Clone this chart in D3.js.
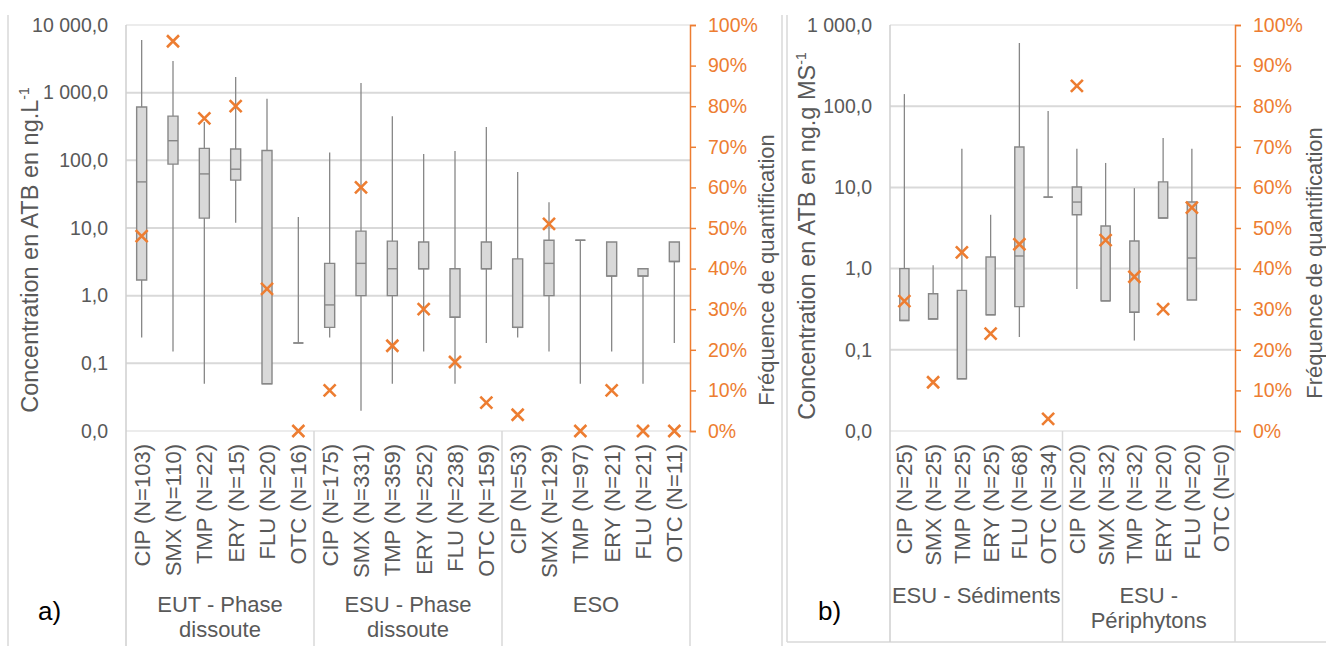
<!DOCTYPE html>
<html>
<head>
<meta charset="utf-8">
<script src="https://cdn.jsdelivr.net/npm/d3@7"></script>
<style>
  body { margin: 0; background: #fff; }
  svg { display: block; font-family: "Liberation Sans", Arial, sans-serif; }
</style>
</head>
<body>
<svg id="chart" width="1326" height="646"></svg>
<script>
// ---- Panel a) : dissolved phase (ng/L) ----
const aCategories = ["CIP (N=103)", "SMX (N=110)", "TMP (N=22)", "ERY (N=15)", "FLU (N=20)", "OTC (N=16)",
                     "CIP (N=175)", "SMX (N=331)", "TMP (N=359)", "ERY (N=252)", "FLU (N=238)", "OTC (N=159)",
                     "CIP (N=53)", "SMX (N=129)", "TMP (N=97)", "ERY (N=21)", "FLU (N=21)", "OTC (N=11)"];
const aGroups = [["EUT - Phase", "dissoute"], ["ESU - Phase", "dissoute"], ["ESO"]];
const aGroupSizes = [6, 6, 6];
const aMin    = [0.24, 0.15, 0.05, 12, 0.05, 0.2,   0.24, 0.02, 0.05, 0.15, 0.05, 0.2,   0.24, 0.15, 0.05, 0.15, 0.05, 0.2];
const aQ1     = [1.7, 88, 14, 51, 0.05, 0.2,        0.34, 1.0, 1.0, 2.5, 0.48, 2.5,      0.34, 1.0, 6.6, 1.95, 1.95, 3.2];
const aMedian = [48, 195, 63, 74, 0.05, 0.2,        0.73, 3.0, 2.5, 2.5, 0.48, 2.5,      0.34, 3.0, 6.6, 1.95, 1.95, 3.2];
const aQ3     = [614, 450, 150, 147, 140, 0.2,      3.0, 9.0, 6.4, 6.2, 2.5, 6.2,        3.5, 6.6, 6.6, 6.2, 2.5, 6.2];
const aMax    = [6000, 2950, 370, 1700, 810, 14.5,  130, 1390, 450, 124, 137, 310,       67, 24, 6.6, 6.2, 2.5, 6.2];
const aFreq   = [48, 96, 77, 80, 35, 0,             10, 60, 21, 30, 17, 7,               4, 51, 0, 10, 0, 0];
const aTicks  = [0.01, 0.1, 1, 10, 100, 1000, 10000];

// ---- Panel b) : sediments and periphyton (ng/g dry matter) ----
const bCategories = ["CIP (N=25)", "SMX (N=25)", "TMP (N=25)", "ERY (N=25)", "FLU (N=68)", "OTC (N=34)",
                     "CIP (N=20)", "SMX (N=32)", "TMP (N=32)", "ERY (N=20)", "FLU (N=20)", "OTC (N=0)"];
const bGroups = [["ESU - Sédiments"], ["ESU -", "Périphytons"]];
const bGroupSizes = [6, 6];
const bMin    = [0.23, 0.24, 0.044, 0.27, 0.144, 7.6,   0.56, 0.40, 0.13, 4.2, 0.41, null];
const bQ1     = [0.23, 0.24, 0.044, 0.27, 0.34, 7.6,    4.6, 0.40, 0.29, 4.2, 0.41, null];
const bMedian = [0.23, 0.24, 0.044, 0.27, 1.43, 7.6,    6.6, 0.40, 0.29, 4.2, 1.35, null];
const bQ3     = [1.0, 0.49, 0.54, 1.39, 31.5, 7.6,      10.1, 3.35, 2.19, 11.7, 6.6, null];
const bMax    = [141, 1.1, 30, 4.6, 600, 87,            30, 20, 9.8, 40.6, 30, null];
const bFreq   = [32, 12, 44, 24, 46, 3,                 85, 47, 38, 30, 55, null];
const bTicks  = [0.01, 0.1, 1, 10, 100, 1000];

const pctTicks = d3.range(0, 101, 10);

const ORANGE = "#ED7D31";
const TEXT = "#595959";
const GRID = "#d9d9d9";
const BOXLINE = "#878787";

const fr = d3.formatLocale({ decimal: ",", thousands: "\u00a0", grouping: [3], currency: ["", " €"] });
const fmtConc = fr.format(",.1f");

const svg = d3.select("#chart");

// panel frames
const frame = svg.append("g").attr("stroke", GRID).attr("stroke-width", 1.5);
frame.append("line").attr("x1", 8).attr("x2", 8).attr("y1", 15).attr("y2", 646);
frame.append("line").attr("x1", 782).attr("x2", 782).attr("y1", 15).attr("y2", 646);
frame.append("line").attr("x1", 787).attr("x2", 787).attr("y1", 15).attr("y2", 642);
frame.append("line").attr("x1", 787).attr("x2", 1326).attr("y1", 642).attr("y2", 642);

function drawPanel(cfg) {
  const g = svg.append("g");
  const x = d3.scaleBand().domain(d3.range(cfg.categories.length)).range([cfg.x0, cfg.x1]);
  const y = d3.scaleLog().domain([cfg.ticks[0], cfg.ticks[cfg.ticks.length - 1]]).range([cfg.yBottom, cfg.yTop]);
  const yp = d3.scaleLinear().domain([0, 100]).range([cfg.yBottom, cfg.yTop]);
  const bw = x.bandwidth() * 0.32;
  const cx = i => x(i) + x.bandwidth() / 2;

  // horizontal gridlines
  g.append("g").selectAll("line").data(cfg.ticks).join("line")
    .attr("x1", cfg.x0).attr("x2", cfg.x1)
    .attr("y1", d => y(d)).attr("y2", d => y(d))
    .attr("stroke", (d, i) => (i === 0 || i === cfg.ticks.length - 1) ? "#ececec" : GRID)
    .attr("stroke-width", 2);

  // left (concentration) axis
  const axL = g.append("g").attr("transform", `translate(${cfg.x0},0)`)
    .call(d3.axisLeft(y).tickValues(cfg.ticks).tickFormat(fmtConc).tickSize(0).tickPadding(18));
  axL.select(".domain").remove();
  axL.selectAll("text").attr("fill", TEXT).attr("font-size", 19.5).attr("font-family", "Liberation Sans, Arial, sans-serif");
  g.append("line").attr("x1", cfg.x0).attr("x2", cfg.x0).attr("y1", cfg.yTop).attr("y2", cfg.bottom)
    .attr("stroke", "#cfcfcf").attr("stroke-width", 1.5);

  // category separators under the plot
  let acc = 0;
  const bounds = [0];
  cfg.groupSizes.forEach(n => { acc += n; bounds.push(acc); });
  g.append("g").selectAll("line").data(bounds.slice(1)).join("line")
    .attr("x1", d => x(d - 1) + x.bandwidth()).attr("x2", d => x(d - 1) + x.bandwidth())
    .attr("y1", cfg.yBottom).attr("y2", cfg.bottom)
    .attr("stroke", GRID).attr("stroke-width", 1.5);

  // category labels (rotated)
  g.append("g").selectAll("text").data(cfg.categories).join("text")
    .attr("transform", (d, i) => `translate(${cx(i)},${cfg.yBottom + 13}) rotate(-90)`)
    .attr("text-anchor", "end").attr("dy", "0.36em")
    .attr("font-size", 22).attr("fill", TEXT)
    .text(d => d);

  // group labels
  cfg.groups.forEach((lines, gi) => {
    const gx = (x(bounds[gi]) + x(bounds[gi + 1] - 1) + x.bandwidth()) / 2;
    const t = g.append("text").attr("x", gx).attr("y", cfg.groupY)
      .attr("text-anchor", "middle").attr("font-size", 22).attr("fill", TEXT);
    lines.forEach((s, li) => t.append("tspan").attr("x", gx).attr("dy", li === 0 ? 0 : 25).text(s));
  });

  // box plots
  const idx = d3.range(cfg.categories.length).filter(i => cfg.q1[i] != null);
  const bx = g.append("g");
  bx.selectAll("line.whisker").data(idx).join("line").attr("class", "whisker")
    .attr("x1", cx).attr("x2", cx)
    .attr("y1", i => y(cfg.max[i])).attr("y2", i => y(cfg.min[i]))
    .attr("stroke", BOXLINE).attr("stroke-width", 1.3);
  bx.selectAll("path.box").data(idx).join("path").attr("class", "box")
    .attr("d", i => `M${cx(i) - bw / 2},${y(cfg.q3[i])}H${cx(i) + bw / 2}V${y(cfg.q1[i])}H${cx(i) - bw / 2}Z`)
    .attr("fill", "#d9d9d9").attr("stroke", BOXLINE).attr("stroke-width", 1.4);
  bx.selectAll("line.median").data(idx).join("line").attr("class", "median")
    .attr("x1", i => cx(i) - bw / 2).attr("x2", i => cx(i) + bw / 2)
    .attr("y1", i => y(cfg.median[i])).attr("y2", i => y(cfg.median[i]))
    .attr("stroke", BOXLINE).attr("stroke-width", 1.4);

  // right (quantification frequency) axis
  const axR = g.append("g").attr("transform", `translate(${cfg.x1},0)`)
    .call(d3.axisRight(yp).tickValues(pctTicks).tickFormat(d => d + "%").tickSize(6).tickPadding(12));
  axR.select(".domain").attr("stroke", ORANGE).attr("stroke-width", 1.5);
  axR.selectAll(".tick line").attr("stroke", ORANGE).attr("stroke-width", 1.5);
  axR.selectAll("text").attr("fill", ORANGE).attr("font-size", 19.5).attr("font-family", "Liberation Sans, Arial, sans-serif");

  // quantification frequency markers
  const fi = d3.range(cfg.categories.length).filter(i => cfg.freq[i] != null);
  g.append("g").selectAll("path").data(fi).join("path")
    .attr("transform", i => `translate(${cx(i)},${yp(cfg.freq[i])})`)
    .attr("d", "M-6,-6L6,6M-6,6L6,-6")
    .attr("stroke", ORANGE).attr("stroke-width", 2.6).attr("fill", "none");

  // axis titles
  const tl = g.append("text")
    .attr("transform", `translate(${cfg.titleLX},${cfg.titleLY}) rotate(-90)`)
    .attr("text-anchor", "middle").attr("font-size", 23.5).attr("fill", TEXT);
  tl.append("tspan").text(cfg.titleL);
  tl.append("tspan").attr("font-size", 14).attr("dy", -9).text("-1");

  g.append("text")
    .attr("transform", `translate(${cfg.titleRX},${cfg.titleRY}) rotate(-90)`)
    .attr("text-anchor", "middle").attr("font-size", 22).attr("fill", TEXT)
    .text("Fréquence de quantification");

  // panel letter
  g.append("text").attr("x", cfg.letterX).attr("y", 620)
    .attr("font-size", 26).attr("fill", "#000").text(cfg.letter);
}

drawPanel({
  categories: aCategories, groups: aGroups, groupSizes: aGroupSizes,
  min: aMin, q1: aQ1, median: aMedian, q3: aQ3, max: aMax, freq: aFreq, ticks: aTicks,
  x0: 126, x1: 690, yTop: 25, yBottom: 431, bottom: 646, groupY: 612,
  titleL: "Concentration en ATB en ng.L", titleLX: 38, titleLY: 250,
  titleRX: 774, titleRY: 270, letter: "a)", letterX: 38
});

drawPanel({
  categories: bCategories, groups: bGroups, groupSizes: bGroupSizes,
  min: bMin, q1: bQ1, median: bMedian, q3: bQ3, max: bMax, freq: bFreq, ticks: bTicks,
  x0: 890, x1: 1235, yTop: 25, yBottom: 431, bottom: 642, groupY: 603,
  titleL: "Concentration en ATB en ng.g MS", titleLX: 815, titleLY: 236,
  titleRX: 1322, titleRY: 263, letter: "b)", letterX: 818
});
</script>
</body>
</html>
